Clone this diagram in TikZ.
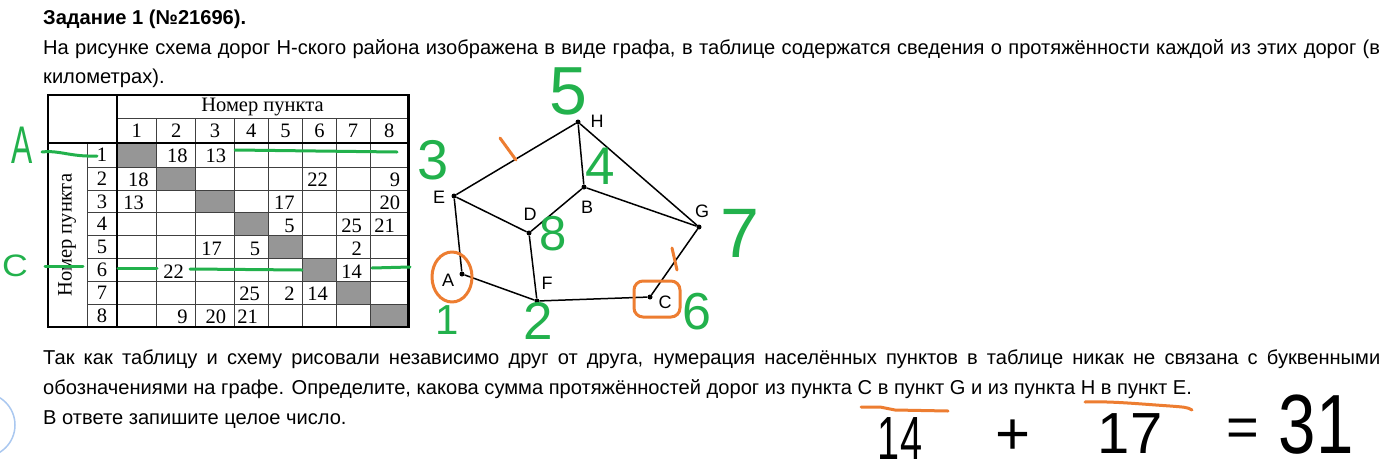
\documentclass[tikz,border=0pt]{standalone}
\usepackage{graphicx}
\usepackage{fontspec}
\setmainfont{Liberation Sans}
\newfontfamily\tabfont{Liberation Serif}
\definecolor{hgreen}{RGB}{34,177,76}
\definecolor{horange}{RGB}{237,125,49}
\definecolor{cellgray}{RGB}{150,150,150}
\definecolor{cblue}{RGB}{170,200,240}
\newcommand\bodyfs{\fontsize{20.1pt}{24pt}\selectfont}
\newcommand\hsz[1]{\fontsize{#1pt}{#1pt}\selectfont}
\tikzset{
  txt/.style={anchor=base west, inner sep=0pt, font=\bodyfs},
  tline/.style={line width=1pt, black!75},
  thickl/.style={line width=2.4pt, black},
  tnum/.style={anchor=base east, inner sep=0pt, font=\tabfont\hsz{20.5}},
  thead/.style={anchor=center, inner sep=0pt, font=\tabfont\hsz{20.5}},
  dot/.style={circle, fill=black, inner sep=0pt, minimum size=5pt},
  edge/.style={line width=1.5pt, black},
  glabel/.style={inner sep=0pt, font=\hsz{18}},
  hwg/.style={inner sep=0pt, text=hgreen},
  hwb/.style={inner sep=0pt, text=black},
  gstroke/.style={hgreen, line width=3pt, line cap=round},
  ostroke/.style={horange, line width=3pt, line cap=round, line join=round}
}
\begin{document}
\begin{tikzpicture}[x=1pt,y=-1pt]
\clip (0,0) rectangle (1388,474);
\useasboundingbox (0,0) rectangle (1388,474);
\fill[white] (0,0) rectangle (1388,474);

% ---- text ----
\node[txt] (t0) at (43,24) {\bfseries Задание 1 (№21696).};
\node[txt] (t1) at (43,54) {\makebox[1337pt][s]{На рисунке схема дорог Н-ского района изображена в виде графа, в таблице содержатся сведения о протяжённости каждой из этих дорог (в}};
\node[txt] (t2) at (43,83) {километрах).};
\node[txt] (t3) at (43,364) {\makebox[1337pt][s]{Так как таблицу и схему рисовали независимо друг от друга, нумерация населённых пунктов в таблице никак не связана с буквенными}};
\node[txt] (t4) at (43,394) {обозначениями на графе. Определите, какова сумма протяжённостей дорог из пункта C в пункт G и из пункта H в пункт E.};
\node[txt] (t5) at (43,424) {В ответе запишите целое число.};

% ---- table ----
\foreach \xa/\xb/\ya/\yb in {117/156.7/143/167.3, 156.7/195.7/167.3/190, 195.7/234.3/190/212.7, 234.3/268.3/212.7/235.7, 268.3/302.7/235.7/258.7, 302.7/336/258.7/281.3, 336/370/281.3/304, 370/408.3/304/327}
  \fill[cellgray] (\xa,\ya) rectangle (\xb,\yb);
\draw[tline] (117,118) -- (408.3,118);
\foreach \x in {156.7,195.7,234.3,268.3,302.7,336,370}
  \draw[tline] (\x,118) -- (\x,327);
\foreach \y in {167.3,190,212.7,235.7,258.7,281.3,304}
  \draw[tline] (87,\y) -- (408.3,\y);
\draw[tline] (87,143) -- (87,327);
\draw[thickl] (48,95) rectangle (408.3,327);
\draw[thickl] (117,95) -- (117,327);
\draw[thickl] (48,143) -- (408.3,143);

\node[thead] (hdr) at (262.5,107) {Номер пункта};
\node[thead, rotate=90] (vhdr) at (67,235) {Номер пункта};
\foreach \x [count=\i] in {136.7,176.2,215,251.3,285.5,319.4,353,389.2}
  \node[thead] (c\i) at (\x,131) {\i};
\foreach \y [count=\i] in {155.2,178.7,201.4,224.2,247.2,270,292.7,315.5}
  \node[thead] (r\i) at (102,\y) {\i};
\foreach \x/\y/\v [count=\k] in {
  187.7/162.5/18, 226.3/162.5/13,
  148.7/186.8/18, 328/186.8/22, 400.3/186.8/9,
  144/209.5/13, 294.7/209.5/17, 400.3/209.5/20,
  294.7/232.2/5, 362/232.2/25, 395/232.2/21,
  222/255.2/17, 260.3/255.2/5, 362/255.2/2,
  184/278.2/22, 362/278.2/14,
  260/300.8/25, 294.7/300.8/2, 328/300.8/14,
  187.7/323.5/9, 226.3/323.5/20, 258/323.5/21}
  \node[tnum] (v\k) at (\x,\y) {\v};

% ---- graph ----
\node[dot] (H) at (578,122) {};
\node[dot] (E) at (454,196) {};
\node[dot] (B) at (584,187) {};
\node[dot] (D) at (529,233) {};
\node[dot] (G) at (699,227) {};
\node[dot] (A) at (462,274) {};
\node[dot] (F) at (537,301) {};
\node[dot] (C) at (650,297) {};
\node[glabel] (lH) at (597,121) {H};
\node[glabel] (lE) at (439,197) {E};
\node[glabel] (lB) at (587,207) {B};
\node[glabel] (lD) at (530,214) {D};
\node[glabel] (lG) at (702,211) {G};
\node[glabel] (lA) at (448,280) {A};
\node[glabel] (lF) at (547,283) {F};
\node[glabel] (lC) at (665,302) {C};
\foreach \a/\b in {E/H, H/B, H/G, E/D, D/B, B/G, E/A, A/F, D/F, F/C, C/G}
  \draw[edge] (\a) -- (\b);

% ---- orange annotations ----
\draw[ostroke] (500,138) -- (516,160);
\draw[ostroke] (672,248) -- (677,270);
\draw[ostroke] (452,277) ellipse (20 and 25);
\draw[ostroke, rounded corners=9pt] (634,281) rectangle (680,317);
\draw[ostroke] (861,407) -- (880,407) -- (895,410) -- (948,411);
\draw[ostroke] (1085,402) .. controls (1110,401) and (1140,404) .. (1170,406) .. controls (1182,407) and (1188,407) .. (1192,410);

% ---- green annotations ----
\draw[gstroke] (42,152) .. controls (60,150) and (70,157) .. (97,156);
\draw[gstroke] (235,150) -- (397,152);
\draw[gstroke] (45,266) -- (83,266);
\draw[gstroke] (118,268) -- (157,268);
\draw[gstroke] (190,269) -- (302,270);
\draw[gstroke] (372,268) -- (410,267);
\node[hwg, font=\hsz{53}] (gA) at (22,145) {\scalebox{0.6}[1]{A}};
\node[hwg, font=\hsz{31}] (gC) at (15,266) {\scalebox{1.15}[1]{C}};
\node[hwg, font=\hsz{56}] (g3) at (433,160) {3};
\node[hwg, font=\hsz{68}] (g5) at (568,91) {5};
\node[hwg, font=\hsz{53}] (g4) at (600,166) {4};
\node[hwg, font=\hsz{49}] (g8) at (553,234) {8};
\node[hwg, font=\hsz{70}] (g7) at (740,233) {7};
\node[hwg, font=\hsz{42}] (g1) at (447,320) {1};
\node[hwg, font=\hsz{53}] (g2) at (538,321) {2};
\node[hwg, font=\hsz{52}] (g6) at (697,312) {6};

% ---- handwritten sum ----
\node[hwb, font=\hsz{61}] (s14) at (900,439) {\scalebox{0.65}[1]{14}};
\node[hwb, font=\hsz{60}] (splus) at (1013,437) {+};
\node[hwb, font=\hsz{58}] (s17) at (1130,434) {17};
\node[hwb, font=\hsz{56}] (seq) at (1243,433) {=};
\node[hwb, font=\hsz{84}] (s31) at (1316,425) {\scalebox{0.8}[1]{31}};

% ---- blue circle at left edge ----
\draw[cblue, line width=1.5pt] (-17,425) circle (32);
\end{tikzpicture}
\end{document}
